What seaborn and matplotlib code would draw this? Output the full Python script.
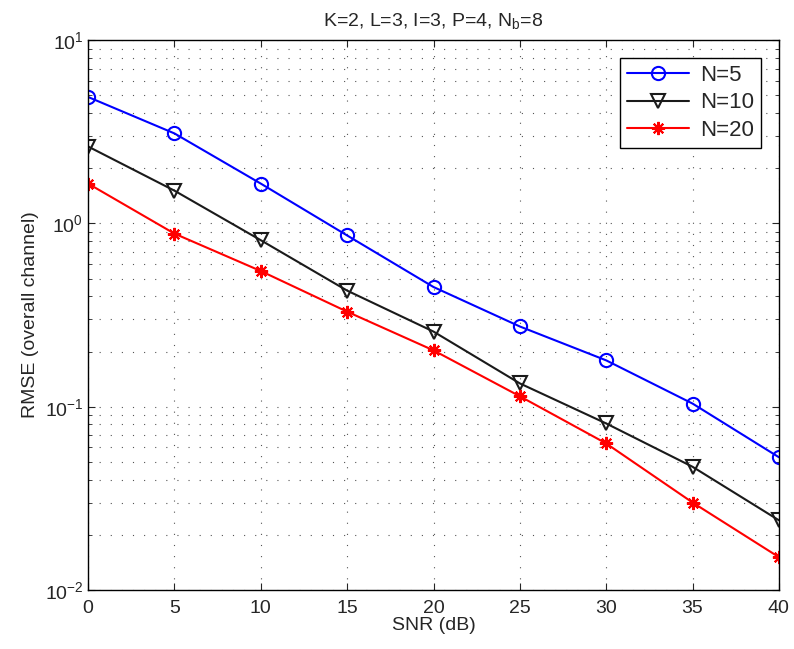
import matplotlib
matplotlib.use("Agg")
import matplotlib.pyplot as plt
import seaborn as sns
import pandas as pd
import numpy as np

snr = [0, 5, 10, 15, 20, 25, 30, 35, 40]
rmse_n5 = [4.9, 3.1, 1.65, 0.86, 0.45, 0.274, 0.179, 0.104, 0.053]
rmse_n10 = [2.63, 1.51, 0.81, 0.43, 0.257, 0.134, 0.081, 0.047, 0.024]
rmse_n20 = [1.65, 0.88, 0.55, 0.33, 0.203, 0.114, 0.063, 0.030, 0.0151]
labels = ["N=5", "N=10", "N=20"]

sns.set_style("ticks")
plt.rcParams['font.family'] = ['Liberation Sans', 'DejaVu Sans']

df = pd.DataFrame({
    "SNR": snr * 3,
    "RMSE": rmse_n5 + rmse_n10 + rmse_n20,
    "series": [labels[0]] * 9 + [labels[1]] * 9 + [labels[2]] * 9,
})

fig = plt.figure(figsize=(7.94, 6.49), dpi=100)
ax = fig.add_axes([0.111, 0.091, 0.870, 0.847])

palette = {"N=5": "#0000ff", "N=10": "#1a1a1a", "N=20": "#ff0000"}
markers = {"N=5": "o", "N=10": "v", "N=20": (8, 2, 0)}
for lab in labels:
    sub = df[df.series == lab]
    sns.lineplot(data=sub, x="SNR", y="RMSE", ax=ax, color=palette[lab],
                 marker=markers[lab], markersize=9.5,
                 markerfacecolor="none" if lab != "N=20" else palette[lab],
                 markeredgecolor=palette[lab], markeredgewidth=1.5,
                 linewidth=1.5, label=lab)

ax.set_yscale("log")
ax.set_xlim(0, 40)
ax.set_ylim(1e-2, 1e1)
ax.set_xticks(snr)
dots = (0, (1, 9))
ax.grid(True, which="major", linestyle=dots, color="#555555", linewidth=0.8)
ax.grid(True, which="minor", axis="y", linestyle=dots, color="#555555", linewidth=0.8)
ax.tick_params(direction="in", which="both", top=True, right=True, labelsize=14,
               length=5)
ax.tick_params(axis="x", pad=7)
ax.tick_params(which="minor", length=3)
for s in ax.spines.values():
    s.set_linewidth(1.0)
    s.set_color("black")

ax.set_xlabel("SNR (dB)", fontsize=14, labelpad=0)
ax.set_ylabel("RMSE (overall channel)", fontsize=14, labelpad=4)
ax.set_title("K=2, L=3, I=3, P=4, N$_\\mathregular{b}$=8", fontsize=14, pad=10)

leg = ax.legend(loc="upper right", fontsize=16, frameon=True, fancybox=False,
                edgecolor="black", framealpha=1, handlelength=2.8, borderpad=0.3,
                labelspacing=0.3, handletextpad=0.5, borderaxespad=0.8)
leg.get_frame().set_linewidth(1.0)

fig.savefig("out.png", dpi=100)
